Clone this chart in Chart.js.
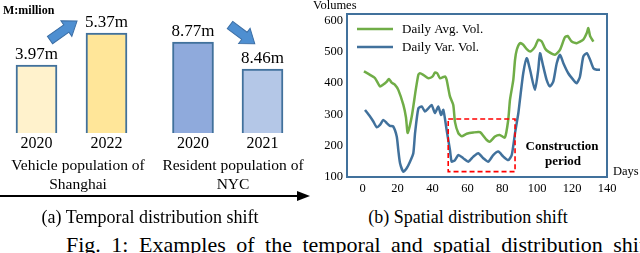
<!DOCTYPE html>
<html>
<head>
<meta charset="utf-8">
<script src="https://cdn.jsdelivr.net/npm/chart.js@4.4.1/dist/chart.umd.min.js"></script>
<style>
  html, body { margin:0; padding:0; background:#fff; }
  body { width:640px; height:253px; position:relative; overflow:hidden; font-family:"Liberation Serif", serif; color:#000; }
  canvas { position:absolute; }
  .t { position:absolute; white-space:nowrap; line-height:1; }
</style>
</head>
<body>
<canvas id="sh" width="145" height="160" style="left:0;top:0"></canvas>
<canvas id="ny" width="145" height="160" style="left:155px;top:0"></canvas>
<canvas id="vol" width="340" height="200" style="left:300px;top:0"></canvas>

<div class="t" style="left:3px;top:4px;font-weight:bold;font-size:12px;">M:million</div>
<div class="t" style="left:78px;top:155px;font-size:15.5px;transform:translateX(-50%);text-align:center;line-height:19px;">Vehicle population of<br>Shanghai</div>
<div class="t" style="left:233px;top:155px;font-size:15.5px;transform:translateX(-50%);text-align:center;line-height:19px;">Resident population of<br>NYC</div>
<div class="t" style="left:150px;top:208px;font-size:18px;transform:translateX(-50%);">(a) Temporal distribution shift</div>
<div class="t" style="left:468px;top:208px;font-size:18px;transform:translateX(-50%);">(b) Spatial distribution shift</div>
<div class="t" style="left:66px;top:234px;font-size:22px;word-spacing:5px;">Fig. 1: Examples of the temporal and spatial distribution shifts</div>

<svg width="640" height="253" style="position:absolute;left:0;top:0;pointer-events:none">
  <g transform="translate(50,40) rotate(-35)">
    <polygon points="0,-4.5 20,-4.5 20,-9.5 33,0 20,9.5 20,4.5 0,4.5" fill="#4e8fd1" stroke="#3b6ea5" stroke-width="1"/>
  </g>
  <g transform="translate(230,25) rotate(37)">
    <polygon points="0,-4.5 18,-4.5 18,-9.5 31,0 18,9.5 18,4.5 0,4.5" fill="#4e8fd1" stroke="#3b6ea5" stroke-width="1"/>
  </g>
  <line x1="0" y1="196" x2="300" y2="196" stroke="#000" stroke-width="2"/>
  <polygon points="297,191 310,196 297,201" fill="#000"/>
</svg>

<script>
// ---------- data ----------
const vehicleYears = ['2020', '2022'];
const vehicleShanghai = [3.97, 5.37];     // million
const residentYears = ['2020', '2021'];
const residentNYC = [8.77, 8.46];         // million

const avgDays = [0.7, 4.2, 7, 9.9, 11.6, 13.8, 15, 16.6, 18.5, 20.4, 23.3, 24.8, 25.8, 28.1, 30.4, 31.9, 32.8, 34.7, 37.6, 40.1, 41.4, 42.7, 44.3, 46.2, 47.2, 48.1, 50, 51.9, 52.9, 54.8, 56.7, 59.6, 63.4, 67.2, 71.1, 72.9, 75.8, 78.5, 81.5, 83.4, 84.4, 86.3, 87.3, 88.3, 90.1, 92, 94, 95.9, 98.7, 100.6, 102.6, 104.5, 106.4, 110.2, 113.1, 115.8, 117.4, 119.8, 122.6, 126.4, 128.4, 129.3, 130.3, 132.2];
const avgVol = [437, 426, 416, 389, 394, 404, 413, 401, 394, 378, 330, 290, 240, 293, 378, 426, 431, 426, 415, 421, 433, 431, 415, 419, 421, 410, 357, 330, 275, 240, 230, 238, 242, 243, 218, 213, 229, 234, 226, 282, 346, 410, 474, 506, 527, 522, 508, 500, 515, 538, 532, 510, 500, 490, 506, 545, 550, 532, 527, 538, 559, 575, 550, 532];

const varDays = [1.3, 4.2, 6.1, 8, 9.9, 11.8, 13.8, 15.6, 17.5, 19.5, 20.4, 21.4, 23.3, 25.2, 27.1, 29, 30, 31.9, 33.8, 35.7, 37.6, 39.5, 41.4, 43.3, 44.9, 46.2, 48.1, 50, 51, 52.9, 54.8, 57.6, 60.5, 63.4, 66.2, 69.1, 72, 74.8, 77.7, 80.6, 83.4, 85.4, 87.3, 89.2, 90.1, 92, 94, 95.9, 98.7, 100.6, 101.6, 103.5, 105.4, 107.3, 109.2, 111.2, 113.1, 115, 117.8, 120.7, 122.6, 124.5, 126.4, 128.4, 130.3, 132.2, 134.1, 136];
const varVol = [314, 293, 277, 259, 266, 282, 272, 263, 261, 229, 186, 144, 117, 128, 149, 176, 240, 319, 325, 309, 319, 330, 304, 325, 298, 314, 250, 186, 149, 154, 170, 160, 149, 165, 176, 160, 149, 170, 181, 165, 154, 170, 240, 304, 346, 431, 479, 442, 378, 442, 495, 452, 410, 389, 404, 463, 490, 463, 431, 410, 399, 420, 484, 495, 474, 447, 442, 442];

const xTicks = [0, 20, 40, 60, 80, 100, 120, 140];
const yTicks = [100, 200, 300, 400, 500, 600];
const construction = { start: 49, end: 87.3, low: 117, high: 285 };
// ---------------------------

const SERIF = "'Liberation Serif', serif";

function build() {
  Chart.defaults.font.family = SERIF;
  Chart.defaults.color = '#000';

  const valueLabels = {
    id: 'valueLabels',
    afterDatasetsDraw(chart) {
      const ctx = chart.ctx;
      const meta = chart.getDatasetMeta(0);
      const ds = chart.data.datasets[0].data;
      ctx.save();
      ctx.font = '17px ' + SERIF;
      ctx.fillStyle = '#000';
      ctx.textAlign = 'center';
      ctx.textBaseline = 'middle';
      meta.data.forEach((bar, i) => {
        ctx.fillText(ds[i].toFixed(2) + 'm', bar.x, bar.y - 10.5);
      });
      ctx.restore();
    }
  };

  function barChart(id, labels, values, colors, ymin, ymax, padL, padR) {
    return new Chart(document.getElementById(id), {
      type: 'bar',
      data: { labels: labels, datasets: [{ data: values, backgroundColor: colors, borderColor: '#41719c', borderWidth: 2, borderSkipped: false, barThickness: 41 }] },
      options: {
        responsive: false, animation: false, devicePixelRatio: 1,
        layout: { padding: { left: padL, right: padR, top: 7, bottom: 0 } },
        plugins: { legend: { display: false }, tooltip: { enabled: false } },
        scales: {
          x: { grid: { display: false, drawTicks: false }, border: { display: false },
               ticks: { font: { size: 16, family: SERIF }, color: '#000', padding: 1 },
               afterFit(s) { s.height = 27; } },
          y: { display: false, min: ymin, max: ymax }
        }
      },
      plugins: [valueLabels]
    });
  }

  barChart('sh', vehicleYears, vehicleShanghai, ['#fff2cc', '#ffe699'], 1.0, 6.51, 1.5, 3.5);
  barChart('ny', residentYears, residentNYC, ['#8faadc', '#b4c7e7'], 7.725, 9.172, 3.25, 2.75);

  const volDecor = {
    id: 'volDecor',
    afterDatasetsDraw(chart) {
      const { ctx, chartArea: a, scales: { x, y } } = chart;
      ctx.save();
      ctx.strokeStyle = '#ff0000';
      ctx.lineWidth = 1.6;
      ctx.setLineDash([5, 3]);
      const x0 = x.getPixelForValue(construction.start), x1 = x.getPixelForValue(construction.end);
      const y0 = y.getPixelForValue(construction.high), y1 = y.getPixelForValue(construction.low);
      ctx.strokeRect(x0, y0, x1 - x0, y1 - y0);
      ctx.setLineDash([]);
      ctx.strokeStyle = '#41719c';
      ctx.lineWidth = 2;
      ctx.strokeRect(a.left, a.top, a.right - a.left, a.bottom - a.top);
      const items = chart.data.datasets;
      ctx.font = '13px ' + SERIF;
      ctx.textBaseline = 'middle';
      ctx.textAlign = 'left';
      items.forEach((ds, i) => {
        const ly = a.top + 15 + i * 18;
        ctx.strokeStyle = ds.borderColor;
        ctx.lineWidth = 2.5;
        ctx.beginPath();
        ctx.moveTo(a.left + 10, ly);
        ctx.lineTo(a.left + 46, ly);
        ctx.stroke();
        ctx.fillStyle = '#000';
        ctx.fillText(ds.label, a.left + 55, ly + 1);
      });
      ctx.font = '12.5px ' + SERIF;
      ctx.fillText('Volumes', a.left - 34, 6);
      ctx.fillText('Days', a.right + 6, a.bottom - 5);
      ctx.font = 'bold 13px ' + SERIF;
      ctx.textAlign = 'center';
      ctx.fillText('Construction', a.right - 45, 147);
      ctx.fillText('period', a.right - 44, 162);
      ctx.restore();
    }
  };

  new Chart(document.getElementById('vol'), {
    type: 'line',
    data: {
      datasets: [
        { label: 'Daily Avg. Vol.', data: avgDays.map((d, i) => ({ x: d, y: avgVol[i] })), borderColor: '#70ad47', borderWidth: 2.5, pointRadius: 0, tension: 0.2, fill: false },
        { label: 'Daily Var. Vol.', data: varDays.map((d, i) => ({ x: d, y: varVol[i] })), borderColor: '#41719c', borderWidth: 2.5, pointRadius: 0, tension: 0.2, fill: false }
      ]
    },
    options: {
      responsive: false, animation: false, devicePixelRatio: 1,
      layout: { padding: { left: 0, right: 33, top: 14, bottom: 0 } },
      plugins: { legend: { display: false }, tooltip: { enabled: false } },
      scales: {
        x: { type: 'linear', min: -9, max: 140,
             afterBuildTicks(s) { s.ticks = xTicks.map(v => ({ value: v })); },
             ticks: { autoSkip: false, maxRotation: 0, font: { size: 12.5, family: SERIF }, color: '#000', padding: 4 },
             grid: { display: false, drawTicks: false }, border: { display: false },
             afterFit(s) { s.height = 23; } },
        y: { min: 100, max: 620,
             afterBuildTicks(s) { s.ticks = yTicks.map(v => ({ value: v })); },
             ticks: { font: { size: 12.5, family: SERIF }, color: '#000', padding: 4 },
             grid: { display: false, drawTicks: false }, border: { display: false },
             afterFit(s) { s.width = 47; } }
      }
    },
    plugins: [volDecor]
  });
}

const loads = ['12px', 'bold 12px'].map(f => document.fonts.load(f + " 'Liberation Serif'"));
Promise.all(loads).then(build, build);
</script>
</body>
</html>
